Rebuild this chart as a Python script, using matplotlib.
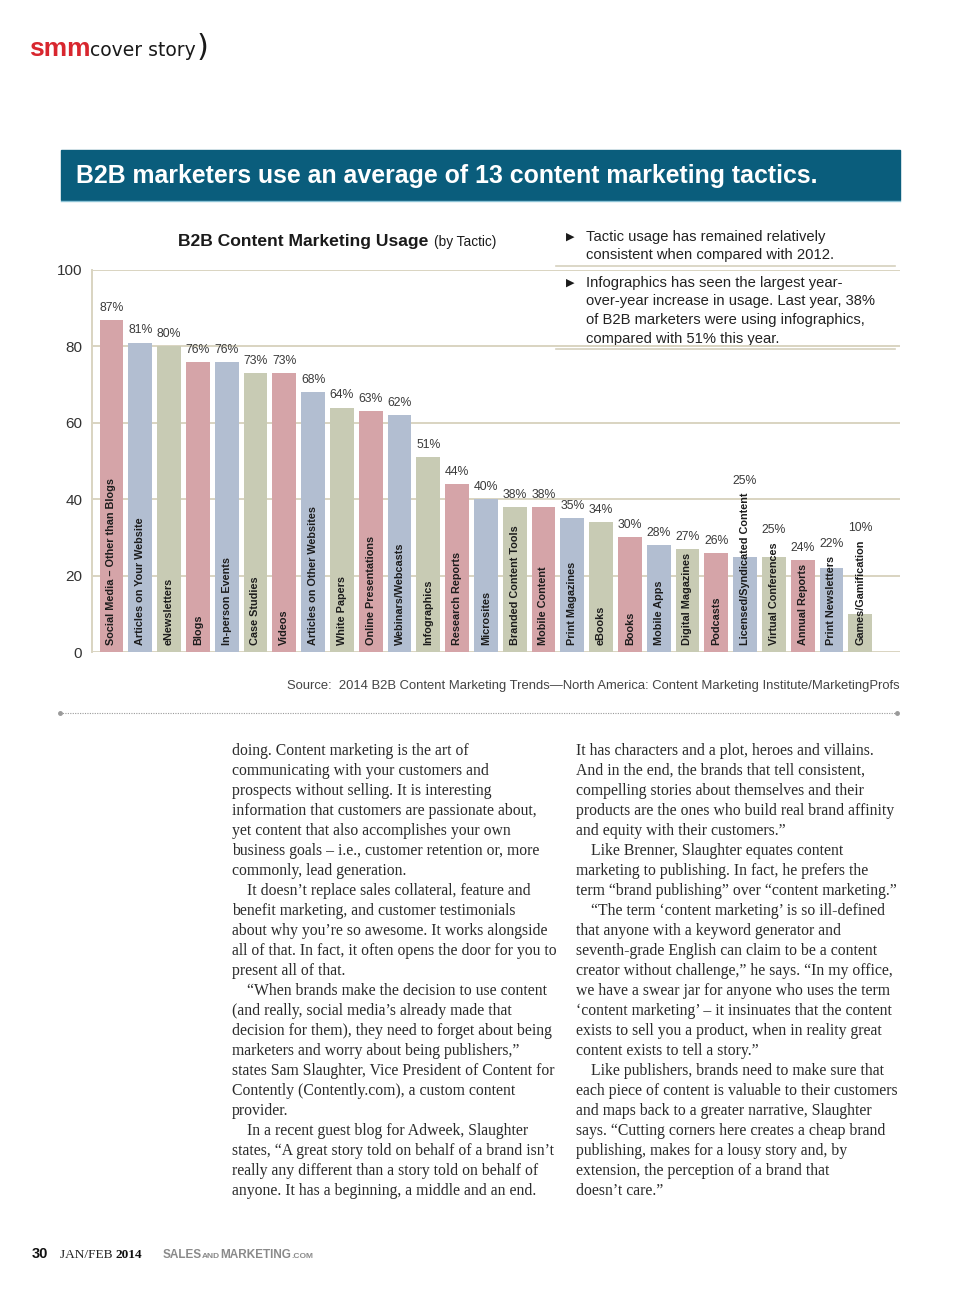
import matplotlib
matplotlib.use("Agg")
import matplotlib.pyplot as plt
from matplotlib import font_manager

plt.rcParams['font.family'] = ['Liberation Sans', 'DejaVu Sans']

# ---- data ----
tactics = ["Social Media – Other than Blogs", "Articles on Your Website", "eNewsletters",
           "Blogs", "In-person Events", "Case Studies", "Videos", "Articles on Other Websites",
           "White Papers", "Online Presentations", "Webinars/Webcasts", "Infographics",
           "Research Reports", "Microsites", "Branded Content Tools", "Mobile Content",
           "Print Magazines", "eBooks", "Books", "Mobile Apps", "Digital Magazines",
           "Podcasts", "Licensed/Syndicated Content", "Virtual Conferences", "Annual Reports",
           "Print Newsletters", "Games/Gamification"]
usage = [87, 81, 80, 76, 76, 73, 73, 68, 64, 63, 62, 51, 44, 40, 38, 38,
         35, 34, 30, 28, 27, 26, 25, 25, 24, 22, 10]
yticks = [0, 20, 40, 60, 80, 100]
palette = ["#d5a4a8", "#b2bed1", "#c8cbb4"]

chart_title = "B2B Content Marketing Usage"
chart_sub = "(by Tactic)"
banner = "B2B marketers use an average of 13 content marketing tactics."
bullets = [["Tactic usage has remained relatively",
            "consistent when compared with 2012."],
           ["Infographics has seen the largest year-",
            "over-year increase in usage. Last year, 38%",
            "of B2B marketers were using infographics,",
            "compared with 51% this year."]]
source = "Source:  2014 B2B Content Marketing Trends—North America: Content Marketing Institute/MarketingProfs"

# (indent?, text)
left_col = [
    (0, "doing. Content marketing is the art of"),
    (0, "communicating with your customers and"),
    (0, "prospects without selling. It is interesting"),
    (0, "information that customers are passionate about,"),
    (0, "yet content that also accomplishes your own"),
    (0, "business goals – i.e., customer retention or, more"),
    (0, "commonly, lead generation."),
    (1, "It doesn’t replace sales collateral, feature and"),
    (0, "benefit marketing, and customer testimonials"),
    (0, "about why you’re so awesome. It works alongside"),
    (0, "all of that. In fact, it often opens the door for you to"),
    (0, "present all of that."),
    (1, "“When brands make the decision to use content"),
    (0, "(and really, social media’s already made that"),
    (0, "decision for them), they need to forget about being"),
    (0, "marketers and worry about being publishers,”"),
    (0, "states Sam Slaughter, Vice President of Content for"),
    (0, "Contently (Contently.com), a custom content"),
    (0, "provider."),
    (1, "In a recent guest blog for Adweek, Slaughter"),
    (0, "states, “A great story told on behalf of a brand isn’t"),
    (0, "really any different than a story told on behalf of"),
    (0, "anyone. It has a beginning, a middle and an end."),
]
right_col = [
    (0, "It has characters and a plot, heroes and villains."),
    (0, "And in the end, the brands that tell consistent,"),
    (0, "compelling stories about themselves and their"),
    (0, "products are the ones who build real brand affinity"),
    (0, "and equity with their customers.”"),
    (1, "Like Brenner, Slaughter equates content"),
    (0, "marketing to publishing. In fact, he prefers the"),
    (0, "term “brand publishing” over “content marketing.”"),
    (1, "“The term ‘content marketing’ is so ill-defined"),
    (0, "that anyone with a keyword generator and"),
    (0, "seventh-grade English can claim to be a content"),
    (0, "creator without challenge,” he says. “In my office,"),
    (0, "we have a swear jar for anyone who uses the term"),
    (0, "‘content marketing’ – it insinuates that the content"),
    (0, "exists to sell you a product, when in reality great"),
    (0, "content exists to tell a story.”"),
    (1, "Like publishers, brands need to make sure that"),
    (0, "each piece of content is valuable to their customers"),
    (0, "and maps back to a greater narrative, Slaughter"),
    (0, "says. “Cutting corners here creates a cheap brand"),
    (0, "publishing, makes for a lousy story and, by"),
    (0, "extension, the perception of a brand that"),
    (0, "doesn’t care.”"),
]

fig = plt.figure(figsize=(9.6, 12.9), dpi=100)
renderer = fig.canvas.get_renderer()

# page layer in pixel units
page = fig.add_axes([0, 0, 1, 1])
page.set_xlim(0, 960)
page.set_ylim(1290, 0)
page.axis('off')


def run(x, y, pieces):
    # put text pieces one after another on a baseline
    for s, kw in pieces:
        t = page.text(x, y, s, va='baseline', ha='left', **kw)
        x += t.get_window_extent(renderer).width
    return x


names = {f.name for f in font_manager.fontManager.ttflist}
narrow = 'Liberation Sans Narrow' if 'Liberation Sans Narrow' in names else 'DejaVu Sans'

# header logo
run(29, 56, [("smm", dict(fontsize=19, fontweight='heavy', color='#d8262e')),
             ("cover story", dict(fontsize=13.5, family=[narrow], color='#1a1a1a')),
             (")", dict(fontsize=22, family=['DejaVu Sans'], color='#1a1a1a'))])

# banner
page.add_patch(plt.Rectangle((61, 150), 839, 50, color='#0a5d7c', zorder=1))
page.plot([61, 900], [200.5, 200.5], color='#8cc3d6', lw=1, zorder=2)
page.text(76, 176, banner, color='white', fontsize=17.9, fontweight='bold',
          va='center', zorder=3)

# chart title
page.text(178, 246, chart_title, fontsize=12.6, fontweight='bold', color='#1a1a1a',
          va='baseline')
page.text(496, 246, chart_sub, fontsize=9.8, color='#1a1a1a', va='baseline', ha='right')

# bullet notes
yy = 237
for block in bullets:
    for j, line in enumerate(block):
        if j == 0:
            page.text(570, yy, "▶", fontsize=8, family=['DejaVu Sans'], color='#1a1a1a',
                      va='center', ha='center')
        page.text(586, yy, line, fontsize=10.6, color='#222222', va='center')
        yy += 18.5
    page.plot([556, 895], [yy - 8, yy - 8], color='#d6d1bd', lw=1.2)
    yy += 9

# source + dotted rule
page.text(900, 686, source, fontsize=9.4, color='#444444', ha='right', va='center')
page.plot([60, 897], [713, 713], color='#9a9a9a', lw=0.8, ls=(0, (1, 1.2)))
page.plot([60, 897], [713, 713], 'o', color='#9a9a9a', ms=2.5)

# body text columns
for col, x0 in ((left_col, 232), (right_col, 576)):
    for k, (ind, line) in enumerate(col):
        page.text(x0 + 15 * ind, 751 + 20 * k, line, family=['Liberation Serif', 'DejaVu Serif'],
                  fontsize=11.3, color='#2b2b2b', va='center')

# footer
run(32, 1258, [("30", dict(fontsize=10.5, fontweight='bold', color='#111111'))])
run(60, 1258, [("JAN/FEB ", dict(fontsize=9.6, family=['Liberation Serif'], color='#222222')),
               ("2014", dict(fontsize=9.6, family=['Liberation Serif'], fontweight='bold',
                             color='#111111'))])
run(163, 1258, [("SALES", dict(fontsize=8.5, fontweight='bold', color='#8a8a8a')),
                ("AND", dict(fontsize=6, fontweight='bold', color='#8a8a8a')),
                ("MARKETING", dict(fontsize=8.5, fontweight='bold', color='#8a8a8a')),
                (".COM", dict(fontsize=6, fontweight='bold', color='#8a8a8a'))])

# ---- chart ----
ax = fig.add_axes([92 / 960, 1 - 652 / 1290, 808 / 960, 382 / 1290])
ax.set_facecolor('none')
n = len(tactics)
xs = list(range(n))
colors = [palette[i % 3] for i in xs]
ax.bar(xs, usage, width=0.83, color=colors, zorder=2)
ax.set_xlim(-0.677, -0.677 + 808 / 28.8)
ax.set_ylim(0, 100)
ax.set_yticks(yticks)
ax.set_xticks([])
ax.tick_params(axis='y', length=0, labelsize=11, labelcolor='#333333', pad=7)
for y in yticks[1:]:
    ax.axhline(y, color='#d9d4c1', lw=1.4, zorder=1)
ax.axhline(0, color='#d9d4c1', lw=1.4, zorder=1)
for s in ['top', 'right', 'bottom']:
    ax.spines[s].set_visible(False)
ax.spines['left'].set_color('#d9d4c1')
ax.spines['left'].set_linewidth(1.4)

inv = ax.transData.inverted()
for x, v, name in zip(xs, usage, tactics):
    t = ax.text(x, 1.8, name, rotation=90, ha='center', va='bottom', fontsize=7.8,
                fontweight='bold', color='#1c1c1c', zorder=3)
    top = inv.transform((0, t.get_window_extent(renderer).y1))[1]
    ax.text(x, max(v, top) + 1.6, f"{v}%", ha='center', va='bottom', fontsize=8.8,
            color='#3a3a3a', zorder=3)

fig.savefig("out.png", dpi=100)
